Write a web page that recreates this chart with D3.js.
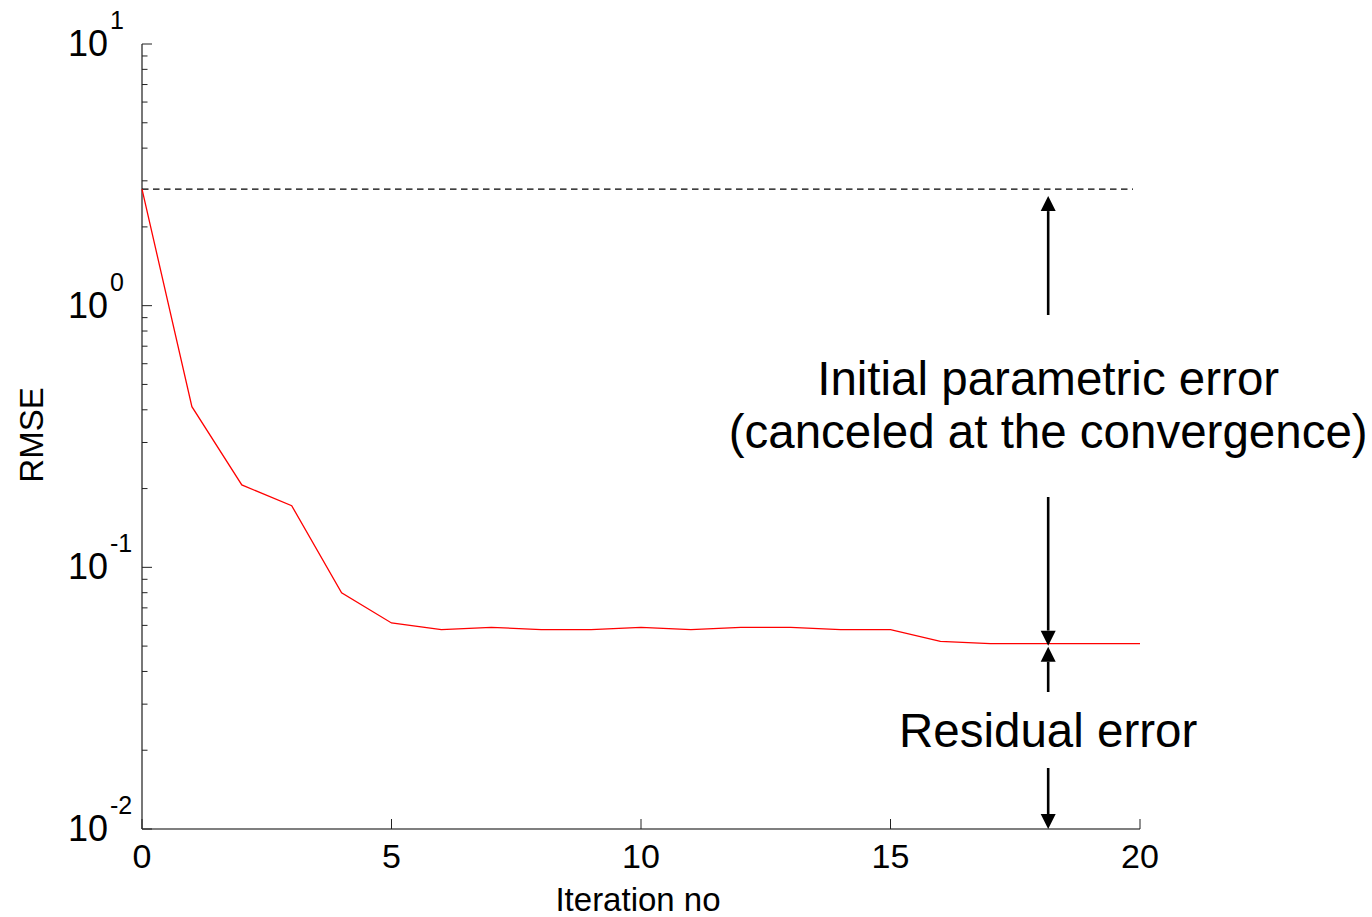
<!DOCTYPE html>
<html>
<head>
<meta charset="utf-8">
<script src="https://cdn.jsdelivr.net/npm/d3@7"></script>
<style>
  html, body { margin: 0; padding: 0; background: #fff; }
  svg { display: block; font-family: "Liberation Sans", Arial, sans-serif; }
</style>
</head>
<body>
<svg id="chart" width="1372" height="917"></svg>
<script>
// RMSE per iteration of the identification loop
const iterations = d3.range(0, 21);
const rmse = [2.79, 0.411, 0.2065, 0.172, 0.0799, 0.0613, 0.0578, 0.059, 0.0578, 0.0578,
              0.059, 0.0578, 0.059, 0.059, 0.0578, 0.0578, 0.0521, 0.0511, 0.0511, 0.0511, 0.0511];
const xTickValues = [0, 5, 10, 15, 20];
const yDecades = [0.01, 0.1, 1, 10];
const yExponents = ["-2", "-1", "0", "1"];
const initialError = rmse[0];
const residualError = rmse[rmse.length - 1];
const annotationX = 18.16;
const dashedEnd = 19.86;
const labelInitial = ["Initial parametric error", "(canceled at the convergence)"];
const labelResidual = "Residual error";

const svg = d3.select("#chart");
const x = d3.scaleLinear().domain([0, 20]).range([142, 1140]);
const y = d3.scaleLog().domain([0.01, 10]).range([829, 44]);

const font = 47.5;

// axes: left and bottom only, ticks pointing inward
const axisColor = "#222";
svg.append("line").attr("x1", x(0)).attr("x2", x(0)).attr("y1", y(10)).attr("y2", y(0.01))
  .attr("stroke", "#555").attr("stroke-width", 1.6);
svg.append("line").attr("x1", x(0)).attr("x2", x(20)).attr("y1", y(0.01)).attr("y2", y(0.01))
  .attr("stroke", "#555").attr("stroke-width", 1.6);

// y ticks (major at decades, minor at 2..9)
const minor = [];
[0.01, 0.1, 1].forEach(d => { for (let k = 2; k <= 9; k++) minor.push(d * k); });
svg.append("g").selectAll("line.minor").data(minor).join("line")
  .attr("x1", x(0)).attr("x2", x(0) + 5.5)
  .attr("y1", d => y(d)).attr("y2", d => y(d))
  .attr("stroke", axisColor).attr("stroke-width", 1);
svg.append("g").selectAll("line.major").data(yDecades).join("line")
  .attr("x1", x(0)).attr("x2", x(0) + 10)
  .attr("y1", d => y(d)).attr("y2", d => y(d))
  .attr("stroke", axisColor).attr("stroke-width", 1);

// y tick labels "10^n"
const yl = svg.append("g").selectAll("g").data(yDecades).join("g");
yl.append("text").attr("x", 108).attr("y", d => y(d) + 12)
  .attr("text-anchor", "end").attr("font-size", 36).attr("fill", "#000").text("10");
yl.append("text").attr("x", 110).attr("y", d => y(d) - 15)
  .attr("text-anchor", "start").attr("font-size", 25).attr("fill", "#000")
  .text((d, i) => yExponents[i]);

// x ticks
svg.append("g").selectAll("line").data(xTickValues).join("line")
  .attr("x1", d => x(d)).attr("x2", d => x(d))
  .attr("y1", y(0.01)).attr("y2", y(0.01) - 10)
  .attr("stroke", axisColor).attr("stroke-width", 1);
svg.append("g").selectAll("text").data(xTickValues).join("text")
  .attr("x", d => x(d)).attr("y", 868)
  .attr("text-anchor", "middle").attr("font-size", 34).attr("fill", "#000")
  .text(d => d);

// axis titles
svg.append("text").attr("x", 638).attr("y", 911).attr("text-anchor", "middle")
  .attr("font-size", 33).attr("fill", "#000").text("Iteration no");
svg.append("text").attr("transform", "translate(43,435) rotate(-90)")
  .attr("text-anchor", "middle").attr("font-size", 33).attr("fill", "#000").text("RMSE");

// initial error reference line
svg.append("line").attr("x1", x(0)).attr("x2", x(dashedEnd))
  .attr("y1", y(initialError)).attr("y2", y(initialError))
  .attr("stroke", "#000").attr("stroke-width", 1.3).attr("stroke-dasharray", "6.5,4.5");

// RMSE curve
svg.append("path").datum(iterations)
  .attr("d", d3.line().x(i => x(i)).y(i => y(rmse[i])))
  .attr("fill", "none").attr("stroke", "#ff0000").attr("stroke-width", 1.3);

// arrows
const ax = x(annotationX);
function arrow(yFrom, yTip) {
  const dir = yTip < yFrom ? -1 : 1;
  const headLen = 15, headHalf = 7.5;
  const base = yTip - dir * headLen;
  svg.append("line").attr("x1", ax).attr("x2", ax).attr("y1", yFrom).attr("y2", base)
    .attr("stroke", "#000").attr("stroke-width", 2.6);
  svg.append("path")
    .attr("d", `M${ax},${yTip}L${ax - headHalf},${base}L${ax + headHalf},${base}Z`)
    .attr("fill", "#000");
}
const yInit = y(initialError), yRes = y(residualError), yBottom = y(0.01);
arrow(315, yInit + 7);
arrow(497, yRes + 2);
arrow(692, yRes + 3);
arrow(768, yBottom);

// annotation text
svg.append("text").attr("x", ax).attr("y", 395).attr("text-anchor", "middle")
  .attr("font-size", font).attr("fill", "#000").text(labelInitial[0]);
svg.append("text").attr("x", ax).attr("y", 448).attr("text-anchor", "middle")
  .attr("font-size", font).attr("fill", "#000").text(labelInitial[1]);
svg.append("text").attr("x", ax).attr("y", 747).attr("text-anchor", "middle")
  .attr("font-size", font).attr("fill", "#000").text(labelResidual);
</script>
</body>
</html>
